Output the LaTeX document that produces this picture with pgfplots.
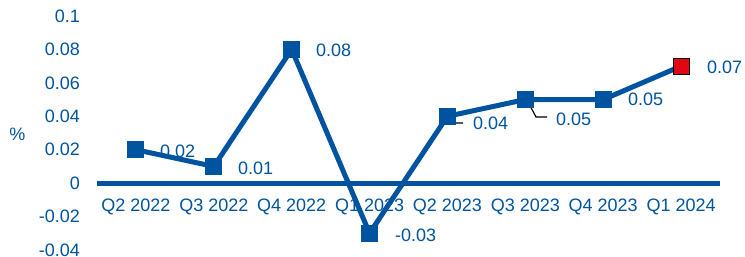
\documentclass[border=0pt]{standalone}
\usepackage{pgfplots}
\pgfplotsset{compat=1.18}
\usepackage{fontspec}
\setmainfont{Liberation Sans}
\definecolor{cblue}{RGB}{0,84,159}
\definecolor{cred}{RGB}{226,6,19}
\begin{document}
\begin{tikzpicture}[x=1bp,y=1bp]
\useasboundingbox (0,0) rectangle (745,256);
\tikzset{lab/.style={anchor=base west,inner sep=0pt,text=cblue,font=\fontsize{18bp}{20bp}\selectfont}}
% data labels
\node[lab] at (160,99) {0.02};
\node[lab] at (238,82) {0.01};
\node[lab] at (316,200) {0.08};
\node[lab] at (395,15) {-0.03};
\node[lab] at (473,127) {0.04};
\node[lab] at (556,131) {0.05};
\node[lab] at (628,151) {0.05};
\node[lab] at (707,183) {0.07};
\draw[black,line width=1.2bp] (447,143) -- (452,133) -- (463,133);
\draw[black,line width=1.2bp] (527,156) -- (536,139) -- (547,139);
\node[anchor=base,inner sep=0pt,text=cblue,font=\fontsize{18bp}{20bp}\selectfont] at (17.5,116) {\%};
\begin{axis}[
  at={(97bp,6bp)}, anchor=south west,
  scale only axis, width=623bp, height=234bp,
  xmin=-0.5, xmax=7.5, ymin=-0.04, ymax=0.1,
  axis line style={draw=none},
  tick style={draw=none},
  clip=false,
  xtick={0,1,2,3,4,5,6,7},
  xticklabels={Q2 2022,Q3 2022,Q4 2022,Q1 2023,Q2 2023,Q3 2023,Q4 2023,Q1 2024},
  ytick={-0.04,-0.02,0,0.02,0.04,0.06,0.08,0.1},
  yticklabels={-0.04,-0.02,0,0.02,0.04,0.06,0.08,0.1},
  xticklabel style={anchor=base,inner sep=0pt,yshift=39bp},
  yticklabel style={anchor=east,inner sep=0pt,xshift=-17bp},
  ticklabel style={text=cblue,font=\fontsize{18bp}{20bp}\selectfont},
]
\addplot[cblue,line width=5bp,no marks] coordinates {(-0.5,0) (7.5,0)};
\addplot[cblue,line width=5bp,mark=square*,mark size=8bp,mark indices={1,2,3,4,5,6,7},mark options={solid,fill=cblue,draw=none,line width=0pt}] coordinates {
(0,0.02) (1,0.01) (2,0.08) (3,-0.03) (4,0.04) (5,0.05) (6,0.05) (7,0.07)};
\addplot[only marks,mark=square*,mark size=8bp,mark options={fill=cred,draw=none,line width=0pt}] coordinates {(7,0.07)};
\end{axis}
\end{tikzpicture}
\end{document}
